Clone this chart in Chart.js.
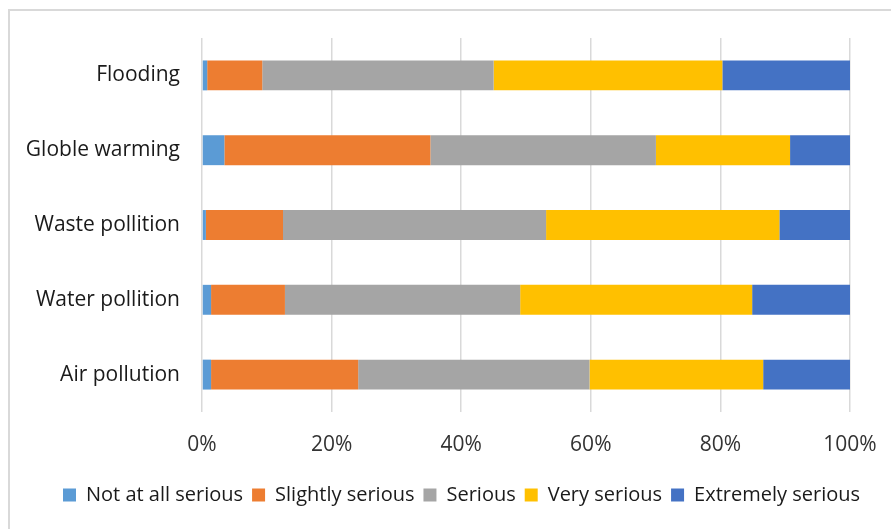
<!DOCTYPE html>
<html>
<head>
<meta charset="utf-8">
<script src="https://cdn.jsdelivr.net/npm/chart.js@4/dist/chart.umd.min.js"></script>
<style>
  html, body { margin: 0; padding: 0; background: #fff; }
  #wrap { position: relative; width: 891px; height: 529px; }
  #frame {
    position: absolute; left: 8px; top: 9px; right: 0; bottom: 0;
    border-left: 2px solid #d9d9d9; border-top: 2px solid #d9d9d9;
  }
  canvas { position: absolute; left: 0; top: 0; }
</style>
</head>
<body>
<div id="wrap">
  <div id="frame"></div>
  <canvas id="chart" width="891" height="529"></canvas>
</div>
<script>
  // Issues, top to bottom
  const categories = ['Flooding', 'Globle warming', 'Waste pollition', 'Water pollition', 'Air pollution'];

  // Share of answers per issue (%)
  const notAtAll  = [0.8, 3.45, 0.6, 1.4, 1.4];
  const slightly  = [8.5, 31.8, 11.9, 11.4, 22.7];
  const serious   = [35.7, 34.8, 40.6, 36.3, 35.7];
  const very      = [35.3, 20.7, 36.0, 35.8, 26.8];
  const extremely = [19.7, 9.25, 10.9, 15.1, 13.4];

  const xTicks = [0, 20, 40, 60, 80, 100];

  const font = "'Open Sans', 'Noto Sans', sans-serif";

  const mk = (label, data, color) => ({
    label, data,
    backgroundColor: color,
    borderWidth: 0,
    barPercentage: 0.4,
    categoryPercentage: 1
  });

  // nudge the legend row a little to the right of centre
  const legendShift = {
    id: 'legendShift',
    afterLayout(chart) {
      if (!chart.legend) return;
      chart.legend.left += 16;
      chart.legend.right += 16;
    }
  };

  new Chart(document.getElementById('chart'), {
    type: 'bar',
    data: {
      labels: categories,
      datasets: [
        mk('Not at all serious', notAtAll, '#5b9bd5'),
        mk('Slightly serious', slightly, '#ed7d31'),
        mk('Serious', serious, '#a5a5a5'),
        mk('Very serious', very, '#ffc000'),
        mk('Extremely serious', extremely, '#4472c4')
      ]
    },
    plugins: [legendShift],
    options: {
      indexAxis: 'y',
      responsive: false,
      animation: false,
      layout: { padding: { left: 10, right: 10, top: 38, bottom: 14 } },
      plugins: {
        tooltip: { enabled: false },
        legend: {
          position: 'bottom',
          labels: {
            boxWidth: 13,
            boxHeight: 13,
            padding: 9,
            color: '#1a1a1a',
            font: { family: font, size: 20 }
          }
        }
      },
      scales: {
        x: {
          stacked: true,
          min: 0,
          max: 100,
          afterBuildTicks: (s) => { s.ticks = xTicks.map(v => ({ value: v })); },
          ticks: {
            padding: 20,
            color: '#333333',
            font: { family: font, size: 21 },
            callback: (v) => v + '%'
          },
          grid: { color: '#d9d9d9', lineWidth: 1.5, drawTicks: false },
          border: { display: false },
          afterFit: (s) => {
            s.height = 64;
            s.paddingLeft = 0;
            s.paddingRight = 41;
          }
        },
        y: {
          stacked: true,
          ticks: {
            padding: 14,
            color: '#1a1a1a',
            font: { family: font, size: 21 }
          },
          grid: { display: false },
          border: { display: false },
          afterFit: (s) => { s.width = 192; }
        }
      }
    }
  });
</script>
</body>
</html>
